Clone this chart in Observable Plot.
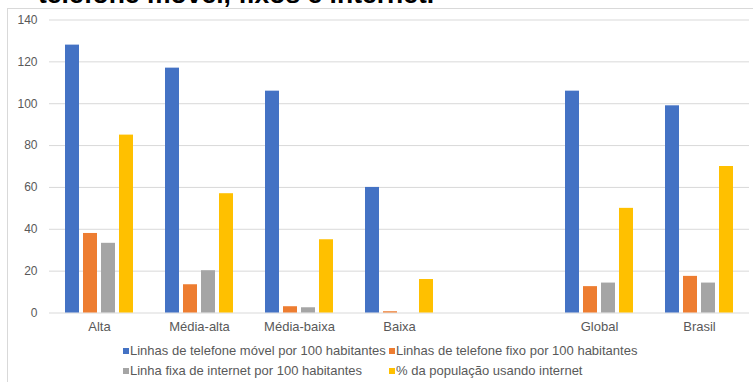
<!DOCTYPE html>
<html>
<head>
<meta charset="utf-8">
<script src="https://cdn.jsdelivr.net/npm/d3@7"></script>
<script src="https://cdn.jsdelivr.net/npm/@observablehq/plot@0.6"></script>
<style>
  body { margin: 0; background: #fff; width: 753px; height: 382px; overflow: hidden; position: relative;
         font-family: "Liberation Sans", Arial, sans-serif; }
  #title { position: absolute; left: 38px; top: -18px; font-size: 26.5px; line-height: 24px; font-weight: bold;
           color: #000; white-space: nowrap; }
  #frame { position: absolute; left: 7px; top: 8px; width: 900px; height: 500px;
           border-left: 1px solid #d9d9d9; border-top: 1px solid #d9d9d9; }
  #chart { position: absolute; left: 0; top: 0; }
  .leg { position: absolute; font-size: 13px; color: #595959; white-space: nowrap; line-height: 16px; }
  .leg span.sw { display: inline-block; width: 6px; height: 6px; margin-right: 1px; vertical-align: 1px; }
  g[aria-label^="y-axis"] { font-size: 12px; }
</style>
</head>
<body>
<div id="frame"></div>
<div id="title">telefone móvel, fixos e internet.</div>
<div id="chart"></div>
<div id="legend"></div>
<script>
const GAP = "(vazio)";
const categories = ["Alta", "Média-alta", "Média-baixa", "Baixa", GAP, "Global", "Brasil"];
const seriesNames = [
  "Linhas de telefone móvel por 100 habitantes",
  "Linhas de telefone fixo por 100 habitantes",
  "Linha fixa de internet por 100 habitantes",
  "% da população usando internet"
];
const seriesColors = ["#4472C4", "#ED7D31", "#A5A5A5", "#FFC000"];
const movel        = [128, 117, 106, 60, null, 106, 99];
const fixo         = [38, 13.5, 3, 0.6, null, 12.6, 17.5];
const internetFixa = [33.3, 20.2, 2.5, 0, null, 14.3, 14.3];
const populacao    = [85, 57, 35, 16, null, 50, 70];
const yTicks = [0, 20, 40, 60, 80, 100, 120, 140];

const seriesValues = [movel, fixo, internetFixa, populacao];
const rows = [];
categories.forEach((c, i) => {
  seriesNames.forEach((s, j) => {
    rows.push({cat: c, series: s, value: seriesValues[j][i]});
  });
});
// gridlines repeated in every category slot (so the empty slot keeps its grid)
const gridRows = [];
categories.forEach(c => yTicks.forEach(t => gridRows.push({cat: c, tick: t})));

const chart = Plot.plot({
  width: 753,
  height: 340,
  marginLeft: 46,
  marginRight: 1,
  marginTop: 19.5,
  marginBottom: 27.5,
  style: {fontFamily: "'Liberation Sans', Arial, sans-serif", fontSize: "13px", color: "#595959", background: "transparent", overflow: "visible"},
  fx: {domain: categories, paddingInner: 0, paddingOuter: 0, label: null, tickSize: 0, tickPadding: 9, axis: "bottom",
       tickFormat: d => d === GAP ? "" : d},
  x: {domain: seriesNames, paddingInner: 0.2, paddingOuter: 0.87, axis: null},
  y: {domain: [0, 140], ticks: yTicks, tickSize: 0, tickPadding: 12, label: null},
  color: {domain: seriesNames, range: seriesColors},
  marks: [
    Plot.ruleY(gridRows, {fx: "cat", y: "tick", stroke: "#d9d9d9", strokeOpacity: 1}),
    Plot.barY(rows.filter(d => d.value != null), {fx: "cat", x: "series", y: "value", fill: "series"})
  ]
});
document.getElementById("chart").appendChild(chart);

const legend = document.getElementById("legend");
const legPos = [[123, 343], [389, 343], [123, 363], [389, 363]];
seriesNames.forEach((s, j) => {
  const d = document.createElement("div");
  d.className = "leg";
  d.style.left = legPos[j][0] + "px";
  d.style.top = legPos[j][1] + "px";
  d.innerHTML = `<span class="sw" style="background:${seriesColors[j]}"></span>`;
  d.appendChild(document.createTextNode(s));
  legend.appendChild(d);
});
</script>
</body>
</html>
